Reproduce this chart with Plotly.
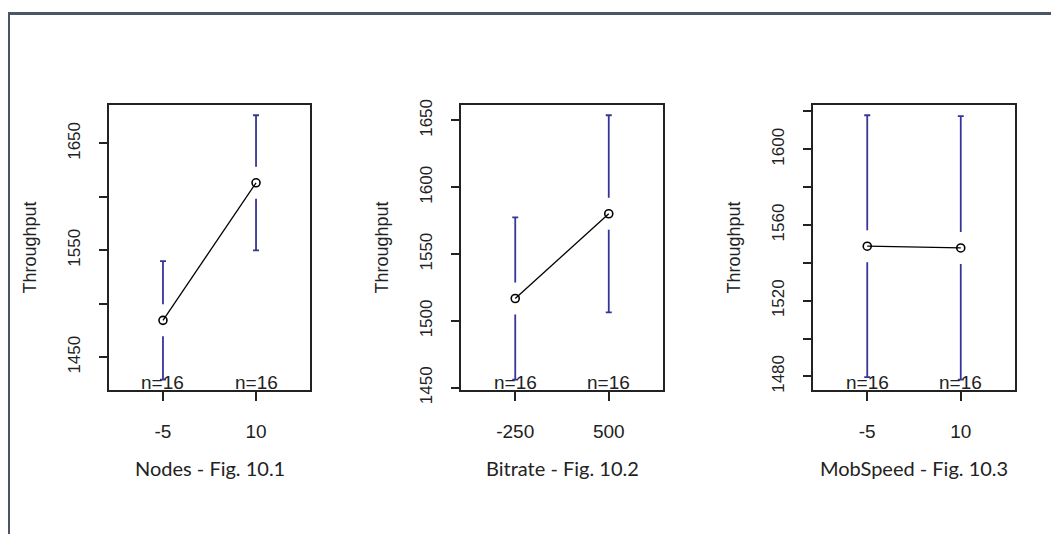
import plotly.graph_objects as go

# ---------------- data ----------------
panel_titles = ["Nodes - Fig. 10.1", "Bitrate - Fig. 10.2", "MobSpeed - Fig. 10.3"]
y_label = "Throughput"

nodes_levels = ["-5", "10"]
nodes_means = [1484.5, 1613.2]
nodes_ci = [55.5, 63.2]

bitrate_levels = ["-250", "500"]
bitrate_means = [1516.8, 1580.2]
bitrate_ci = [60.7, 73.7]

mob_levels = ["-5", "10"]
mob_means = [1548.8, 1547.9]
mob_ci = [69.2, 69.6]

counts_label = ["n=16", "n=16"]

nodes_ticks = [1450, 1500, 1550, 1600, 1650]
nodes_ticktext = ["1450", "", "1550", "", "1650"]
bitrate_ticks = [1450, 1500, 1550, 1600, 1650]
bitrate_ticktext = ["1450", "1500", "1550", "1600", "1650"]
mob_ticks = [1480, 1500, 1520, 1540, 1560, 1580, 1600, 1620]
mob_ticktext = ["1480", "", "1520", "", "1560", "", "1600", ""]

panels = [
    (nodes_levels, nodes_means, nodes_ci, nodes_ticks, nodes_ticktext),
    (bitrate_levels, bitrate_means, bitrate_ci, bitrate_ticks, bitrate_ticktext),
    (mob_levels, mob_means, mob_ci, mob_ticks, mob_ticktext),
]

# ---------------- layout constants ----------------
OFF = 8                      # page body margin (on every side)
W, H = 1059 - 2 * OFF, 556 - 2 * OFF
x_px = [(109, 310), (461, 663), (813, 1015)]   # page pixel positions
y_px = (103, 399)
bar_color = "#34349a"
tick_font = dict(family="Liberation Sans, Arial", size=17, color="#222222")
xtick_font = dict(family="Liberation Sans, Arial", size=19, color="#222222")


def px_x(p):
    return (p - OFF) / W


def px_y(p):
    return (H - (p - OFF)) / H


fig = go.Figure()
layout = dict(
    width=W, height=H,
    margin=dict(l=0, r=0, t=0, b=0),
    paper_bgcolor="white", plot_bgcolor="white",
    showlegend=False,
    annotations=[], shapes=[],
)

for i, (levels, means, ci, yt, ytt) in enumerate(panels):
    xa = "x" if i == 0 else f"x{i+1}"
    ya = "y" if i == 0 else f"y{i+1}"
    lo = min(m - c for m, c in zip(means, ci))
    hi = max(m + c for m, c in zip(means, ci))
    pad = (hi - lo) * 0.04
    # error bars
    fig.add_trace(go.Scatter(
        x=levels, y=means, mode="markers", xaxis=xa, yaxis=ya,
        marker=dict(size=1, color="rgba(0,0,0,0)"),
        error_y=dict(type="data", array=ci, visible=True, color=bar_color,
                     thickness=1.8, width=3),
        hoverinfo="skip"))
    # white mask creating the gap around each mean
    fig.add_trace(go.Scatter(
        x=levels, y=means, mode="markers", xaxis=xa, yaxis=ya,
        marker=dict(size=32, color="white", line=dict(width=0)),
        hoverinfo="skip"))
    # means line + points
    fig.add_trace(go.Scatter(
        x=levels, y=means, mode="lines+markers", xaxis=xa, yaxis=ya,
        line=dict(color="black", width=1.3),
        marker=dict(symbol="circle-open", size=8, color="black",
                    line=dict(width=1.6, color="black"))))

    x0, x1 = x_px[i]
    dom_x = [px_x(x0), px_x(x1)]
    dom_y = [px_y(y_px[1]), px_y(y_px[0])]
    layout["xaxis" if i == 0 else f"xaxis{i+1}"] = dict(
        domain=dom_x, anchor=ya, type="category",
        categoryorder="array", categoryarray=levels,
        range=[-0.58, 1.58], showgrid=False, zeroline=False,
        showline=True, mirror=True, linecolor="#222222", linewidth=1.5,
        ticks="outside", ticklen=9, tickwidth=1.5, tickcolor="#222222",
        tickfont=xtick_font, ticklabelstandoff=14)
    layout["yaxis" if i == 0 else f"yaxis{i+1}"] = dict(
        domain=dom_y, anchor=xa, range=[lo - pad, hi + pad],
        tickmode="array", tickvals=yt, ticktext=ytt, tickangle=-90,
        showgrid=False, zeroline=False,
        showline=True, mirror=True, linecolor="#222222", linewidth=1.5,
        ticks="outside", ticklen=8, tickwidth=1.5, tickcolor="#222222",
        tickfont=tick_font, ticklabelstandoff=12)

    xdom = f"{xa} domain"
    ydom = f"{ya} domain"
    for k, lab in enumerate(counts_label):
        layout["annotations"].append(dict(
            x=k, xref=xa, y=0, yref=ydom, yanchor="bottom", yshift=-5,
            xanchor="center", text=lab, showarrow=False, font=xtick_font))
    layout["annotations"].append(dict(
        x=0.5, xref=xdom, xanchor="center", y=px_y(480), yref="paper",
        yanchor="middle", text=panel_titles[i], showarrow=False,
        font=dict(family="Lato, Open Sans", size=20, color="#222222")))
    layout["annotations"].append(dict(
        x=0, xref=xdom, xanchor="center", xshift=-79, y=0.5, yref=ydom,
        yanchor="middle", text=y_label, textangle=-90, showarrow=False,
        font=dict(family="Liberation Sans, Arial", size=18, color="#222222")))

# outer frame: only the left and top edges are visible in the picture
frame_col = "#4a5566"
layout["shapes"].append(dict(
    type="line", xref="paper", yref="paper",
    x0=0.5 / W, x1=0.5 / W, y0=0, y1=1,
    line=dict(color=frame_col, width=3), layer="below"))
layout["shapes"].append(dict(
    type="line", xref="paper", yref="paper",
    x0=0, x1=1, y0=1 - 0.5 / H, y1=1 - 0.5 / H,
    line=dict(color=frame_col, width=3), layer="below"))

fig.update_layout(**layout)
fig.write_html("out.html")
